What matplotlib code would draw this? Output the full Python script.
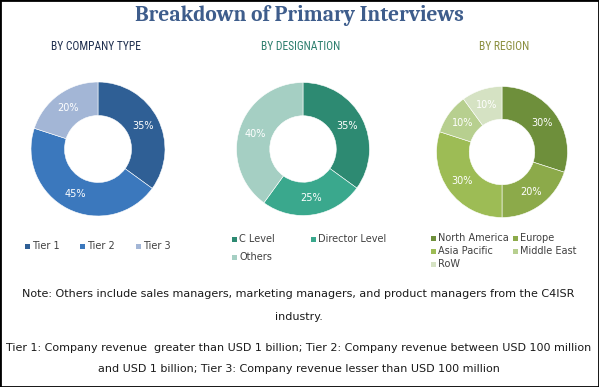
import matplotlib
matplotlib.use("Agg")
import matplotlib.pyplot as plt
from matplotlib.patches import Rectangle

W, H = 599, 387

# data
company_labels = ["Tier 1", "Tier 2", "Tier 3"]
company_values = [35, 45, 20]
company_colors = ["#2f5f95", "#3b78bd", "#a3b6d6"]

design_labels = ["C Level", "Director Level", "Others"]
design_values = [35, 25, 40]
design_colors = ["#2d8a72", "#3aa88d", "#a5cfc3"]

region_labels = ["North America", "Europe", "Asia Pacific", "Middle East", "RoW"]
region_values = [30, 20, 30, 10, 10]
region_colors = ["#6e8f3b", "#8caa4a", "#9dbc55", "#b7cf8f", "#d5e2c3"]

cond = ["Roboto Condensed", "DejaVu Sans"]
sans = "DejaVu Sans"

fig = plt.figure(figsize=(W / 100, H / 100), dpi=100)


def px(x, y):
    # pixel (top-left origin) -> figure fraction
    return x / W, 1 - y / H


def donut(cx, cy, r, values, colors):
    ax = fig.add_axes([(cx - r) / W, 1 - (cy + r) / H, 2 * r / W, 2 * r / H])
    ax.pie(values, colors=colors, startangle=90, counterclock=False,
           wedgeprops=dict(width=0.5, edgecolor="white", linewidth=0.4),
           autopct="%d%%", pctdistance=0.75,
           textprops=dict(color="white", fontsize=7, family=sans))
    ax.set_xlim(-1, 1)
    ax.set_ylim(-1, 1)
    ax.set_aspect("equal")
    ax.axis("off")


def legend(labels, colors, x0, y0, colw, rowh, ncol):
    for i, (lab, col) in enumerate(zip(labels, colors)):
        c, r = i % ncol, i // ncol
        x = x0 + c * colw
        y = y0 + r * rowh
        fig.patches.append(Rectangle(px(x - 2.5, y + 2.5), 5 / W, 5 / H,
                                     transform=fig.transFigure,
                                     facecolor=col, edgecolor="none"))
        fig.text(*px(x + 5, y), lab, fontsize=7, family=sans,
                 color="#404040", va="center", ha="left")


donut(98, 149, 67, company_values, company_colors)
donut(303, 149, 66.5, design_values, design_colors)
donut(502, 152, 65.5, region_values, region_colors)

legend(company_labels, company_colors, 27, 246, 55.5, 14, 3)
legend(design_labels, design_colors, 234, 239, 79, 18, 2)
legend(region_labels, region_colors, 433, 238, 82, 13, 2)

fig.text(*px(299, 15), "Breakdown of Primary Interviews", fontsize=15.5,
         family="Caladea", weight="bold", color="#3e5d8c",
         ha="center", va="center")
fig.text(*px(95.5, 46), "BY COMPANY TYPE", fontsize=8.3, family=cond,
         color="#1f2f4f", ha="center", va="center")
fig.text(*px(300.5, 46), "BY DESIGNATION", fontsize=8.3, family=cond,
         color="#2e7f6e", ha="center", va="center")
fig.text(*px(504, 46), "BY REGION", fontsize=8.3, family=cond,
         color="#8b8f3f", ha="center", va="center")

notes = [
    (294, "Note: Others include sales managers, marketing managers, and product managers from the C4ISR"),
    (317, "industry."),
    (348, "Tier 1: Company revenue  greater than USD 1 billion; Tier 2: Company revenue between USD 100 million"),
    (369, "and USD 1 billion; Tier 3: Company revenue lesser than USD 100 million"),
]
for y, t in notes:
    fig.text(*px(298.5, y), t, fontsize=8, family=sans, color="#1a1a1a",
             ha="center", va="center")

fig.patches.append(Rectangle((0, 0), 1, 1, transform=fig.transFigure,
                             fill=False, edgecolor="black", linewidth=2))

fig.savefig("out.png", dpi=100)
